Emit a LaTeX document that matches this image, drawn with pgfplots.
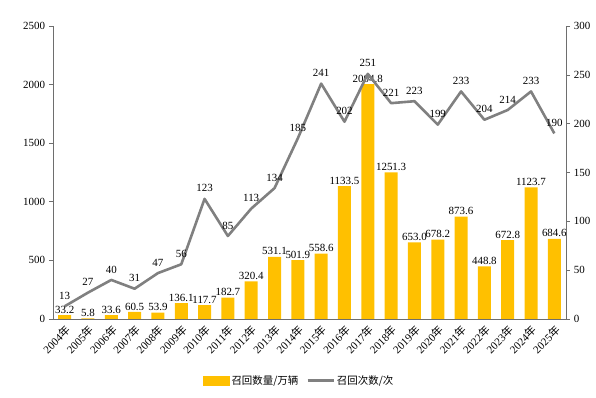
\documentclass[border=0pt]{standalone}
\usepackage{pgfplots}
\pgfplotsset{compat=1.18}
\usepackage{fontspec}
\setmainfont{Liberation Serif}
\newfontfamily\cjk{Noto Sans CJK SC}
\definecolor{bargold}{RGB}{255,192,0}
\definecolor{linegray}{RGB}{128,128,128}
\definecolor{axgray}{RGB}{110,110,110}
\begin{document}
\fontsize{11}{13}\selectfont
\begin{tikzpicture}
\pgfplotsset{
  base/.style={
    scale only axis, width=513bp, height=293bp,
    xmin=-0.5, xmax=21.5,
    /pgf/number format/assume math mode=true,
    tick label style={font=\fontsize{11}{13}\selectfont},
    axis line style={axgray, line width=0.8pt},
    major tick style={axgray, line width=0.6pt},
    tick align=outside, major tick length=4bp,
    scaled y ticks=false,
    yticklabel style={/pgf/number format/1000 sep={}},
  }
}
\begin{axis}[base,
  axis x line*=bottom, axis y line*=left,
  ymin=0, ymax=2500, ytick={0,500,...,2500},
  xtick={0,...,21},
  xticklabels={2004{\cjk 年},2005{\cjk 年},2006{\cjk 年},2007{\cjk 年},2008{\cjk 年},2009{\cjk 年},2010{\cjk 年},2011{\cjk 年},2012{\cjk 年},2013{\cjk 年},2014{\cjk 年},2015{\cjk 年},2016{\cjk 年},2017{\cjk 年},2018{\cjk 年},2019{\cjk 年},2020{\cjk 年},2021{\cjk 年},2022{\cjk 年},2023{\cjk 年},2024{\cjk 年},2025{\cjk 年}},
  xticklabel style={rotate=45, anchor=north east, inner sep=1pt},
  x tick style={draw=none},
  nodes near coords={\pgfmathprintnumber[fixed,fixed zerofill,precision=1,1000 sep={}]{\pgfplotspointmeta}},
  nodes near coords style={font=\fontsize{11}{13}\selectfont, inner sep=1.5pt, black},
]
\addplot[ybar, bar width=13bp, fill=bargold, draw=none] coordinates {
(0,33.2) (1,5.8) (2,33.6) (3,60.5) (4,53.9) (5,136.1) (6,117.7) (7,182.7) (8,320.4) (9,531.1) (10,501.9)
(11,558.6) (12,1133.5) (13,2004.8) (14,1251.3) (15,653.0) (16,678.2) (17,873.6) (18,448.8) (19,672.8) (20,1123.7) (21,684.6)};
\end{axis}
\begin{axis}[base,
  axis x line=none, axis y line*=right,
  ymin=0, ymax=300, ytick={0,50,...,300},
  nodes near coords={\pgfmathprintnumber[fixed,precision=0]{\pgfplotspointmeta}},
  nodes near coords style={font=\fontsize{11}{13}\selectfont, inner sep=5.5bp, black},
  legend style={at={(0.48,-0.21)}, anchor=center, draw=none, legend columns=2,
    font=\cjk\fontsize{10.5}{13}\selectfont, /tikz/every even column/.append style={column sep=6bp}},
  legend image code/.code={\draw[#1] (0bp,0bp) -- (26bp,0bp);},
]
\addlegendimage{legend image code/.code={\fill[bargold] (0bp,-4.5bp) rectangle (26bp,4.5bp);}}
\addlegendentry{召回数量/万辆}
\addplot[linegray, line width=2.6bp, line join=round] coordinates {
(0,13) (1,27) (2,40) (3,31) (4,47) (5,56) (6,123) (7,85) (8,113) (9,134) (10,185)
(11,241) (12,202) (13,251) (14,221) (15,223) (16,199) (17,233) (18,204) (19,214) (20,233) (21,190)};
\addlegendentry{召回次数/次}
\end{axis}
\path (current axis.south west) ++(-53bp,-79bp) rectangle ++(596bp,398bp);
\end{tikzpicture}
\end{document}
